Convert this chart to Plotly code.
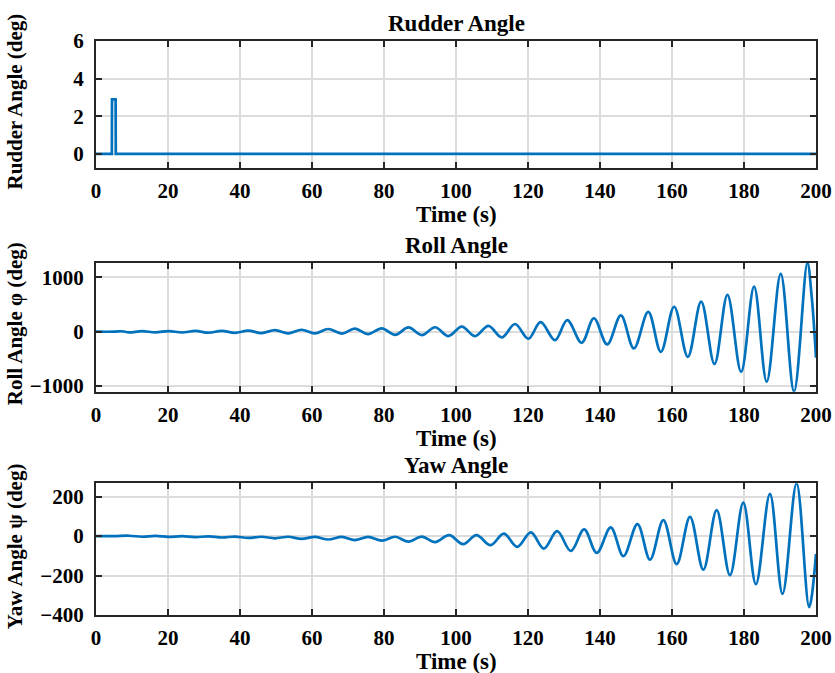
import plotly.graph_objects as go

# ---------------- data ----------------
rudder_t = [0, 4.4, 4.45, 5.45, 5.5, 200]
rudder_v = [0, 0, 2.9, 2.9, 0, 0]

# roll angle: extrema (time, value)
roll_t = [0, 5.0, 7.2, 9.2, 12.8, 16.5, 20.2, 23.9, 27.6, 31.3, 35.0, 38.6,
          42.3, 46.0, 49.7, 53.4, 57.1, 60.8, 64.5, 68.3, 71.9, 75.6, 79.4,
          83.1, 86.8, 90.5, 94.2, 97.9, 101.6, 105.3, 109.0, 112.7, 116.4,
          120.1, 123.5, 127.5, 130.9, 134.9, 138.3, 142.0, 145.8, 149.4,
          153.4, 156.9, 160.6, 164.4, 168.1, 171.8, 175.4, 179.2, 182.8,
          186.3, 190.2, 193.9, 197.6, 198.8, 200.0]
roll_v = [0, 0, 8, -12, 10, -12, 12, -15, 14, -18, 16, -22,
          20, -25, 28, -30, 36, -30, 50, -35, 58, -45, 62,
          -58, 78, -62, 82, -80, 95, -82, 108, -105, 142,
          -130, 175, -155, 215, -205, 248, -235, 300, -308,
          365, -370, 460, -462, 555, -595, 678, -740, 830,
          -920, 1065, -1105, 1271, 650, -480]

# yaw angle: extrema (time, value)
yaw_t = [0, 5.0, 9.2, 12.8, 16.5, 20.2, 23.9, 27.6, 31.3, 35.0, 38.6,
         42.3, 46.0, 49.7, 53.4, 57.1, 60.8, 64.5, 68.3, 71.9, 75.6, 79.4,
         83.1, 86.8, 90.5, 94.2, 98.1, 102.0, 105.7, 109.6, 113.3, 117.0,
         120.8, 124.4, 128.1, 131.9, 135.6, 139.1, 143.0, 146.5, 150.4,
         153.9, 157.6, 161.3, 165.0, 168.7, 172.4, 176.1, 179.8, 183.3,
         187.2, 190.7, 194.6, 198.1, 200.0]
yaw_v = [0, 0, 2, -3, 1, -4, 0, -5, -1, -7, -2,
         -9, -3, -11, -3, -14, -4, -17, -4, -20, -4, -23,
         -3, -28, -2, -30, 5, -41, 5, -46, 13, -54,
         19, -63, 25, -75, 34, -85, 44, -102, 61,
         -119, 81, -142, 98, -170, 132, -198, 170, -244,
         214, -292, 268, -360, -90]

x_ticks = [0, 20, 40, 60, 80, 100, 120, 140, 160, 180, 200]
rudder_ticks = [0, 2, 4, 6]
roll_ticks = [-1000, 0, 1000]
yaw_ticks = [-400, -200, 0, 200]

titles = ["Rudder Angle", "Roll Angle", "Yaw Angle"]
ylabels = ["Rudder Angle (deg)", "Roll Angle \u03c6 (deg)", "Yaw Angle \u03c8 (deg)"]
xlabel = "Time (s)"

# ---------------- figure ----------------
W, H = 835, 673
ml, mr, mt, mb = 96, 19, 41, 58
ph = H - mt - mb
def fy(py):
    return (H - mb - py) / ph

domains = [[fy(168), 1.0], [fy(391.7), fy(262.7)], [0.0, fy(483.3)]]
yranges = [[-0.75, 6], [-1105, 1271], [-400, 268]]
yticks = [rudder_ticks, roll_ticks, yaw_ticks]

LINE = "#0072BD"
FONT = "Liberation Serif"
AX = "#262626"
GRID = "#dcdcdc"

fig = go.Figure()
series = [(rudder_t, rudder_v, "linear"), (roll_t, roll_v, "spline"), (yaw_t, yaw_v, "spline")]
for i, (t, v, shape) in enumerate(series):
    fig.add_trace(go.Scatter(
        x=t, y=v, mode="lines",
        line=dict(color=LINE, width=2.7, shape=shape, smoothing=1.0),
        xaxis="x" if i == 0 else f"x{i+1}",
        yaxis="y" if i == 0 else f"y{i+1}",
        showlegend=False, hoverinfo="skip"))

layout = dict(width=W, height=H, margin=dict(l=ml, r=mr, t=mt, b=mb),
              paper_bgcolor="white", plot_bgcolor="white",
              font=dict(family=FONT, color="black"))
for i in range(3):
    xa = "xaxis" if i == 0 else f"xaxis{i+1}"
    ya = "yaxis" if i == 0 else f"yaxis{i+1}"
    yid = "y" if i == 0 else f"y{i+1}"
    xid = "x" if i == 0 else f"x{i+1}"
    common = dict(showline=True, linecolor=AX, linewidth=2, mirror="ticks",
                  ticks="inside", ticklen=6, tickwidth=2, tickcolor=AX,
                  showgrid=True, gridcolor=GRID, gridwidth=1.5, zeroline=False,
                  automargin=False,
                  tickfont=dict(family=FONT, size=21, color="black", weight="bold"))
    layout[xa] = dict(common, domain=[0, 1], range=[0, 200], tickvals=x_ticks,
                      anchor=yid, ticklabelstandoff=3)
    layout[ya] = dict(common, domain=domains[i], range=yranges[i], tickvals=yticks[i],
                      anchor=xid, ticklabelstandoff=6)
fig.update_layout(**layout)

ann = []
plot_px = [(41, 168), (262.7, 391.7), (483.3, 615)]
for i in range(3):
    top, bot = plot_px[i]
    ann.append(dict(text=f"<b>{titles[i]}</b>", xref="paper", yref="paper",
                    x=0.5, y=fy(top - 3), xanchor="center", yanchor="bottom",
                    showarrow=False, font=dict(family=FONT, size=23, color="black")))
    ann.append(dict(text=f"<b>{xlabel}</b>", xref="paper", yref="paper",
                    x=0.5, y=fy(bot + 47), xanchor="center", yanchor="middle",
                    showarrow=False, font=dict(family=FONT, size=23, color="black")))
    ann.append(dict(text=f"<b>{ylabels[i]}</b>", xref="paper", yref="paper",
                    x=(15 - ml) / (W - ml - mr), y=fy((top + bot) / 2 - 3),
                    xanchor="center", yanchor="middle", textangle=-90,
                    showarrow=False, font=dict(family=FONT, size=21, color="black")))
fig.update_layout(annotations=ann)

fig.write_html("out.html", config={"displayModeBar": False},
               post_script="document.body.style.margin='0';document.body.style.overflow='hidden';")
